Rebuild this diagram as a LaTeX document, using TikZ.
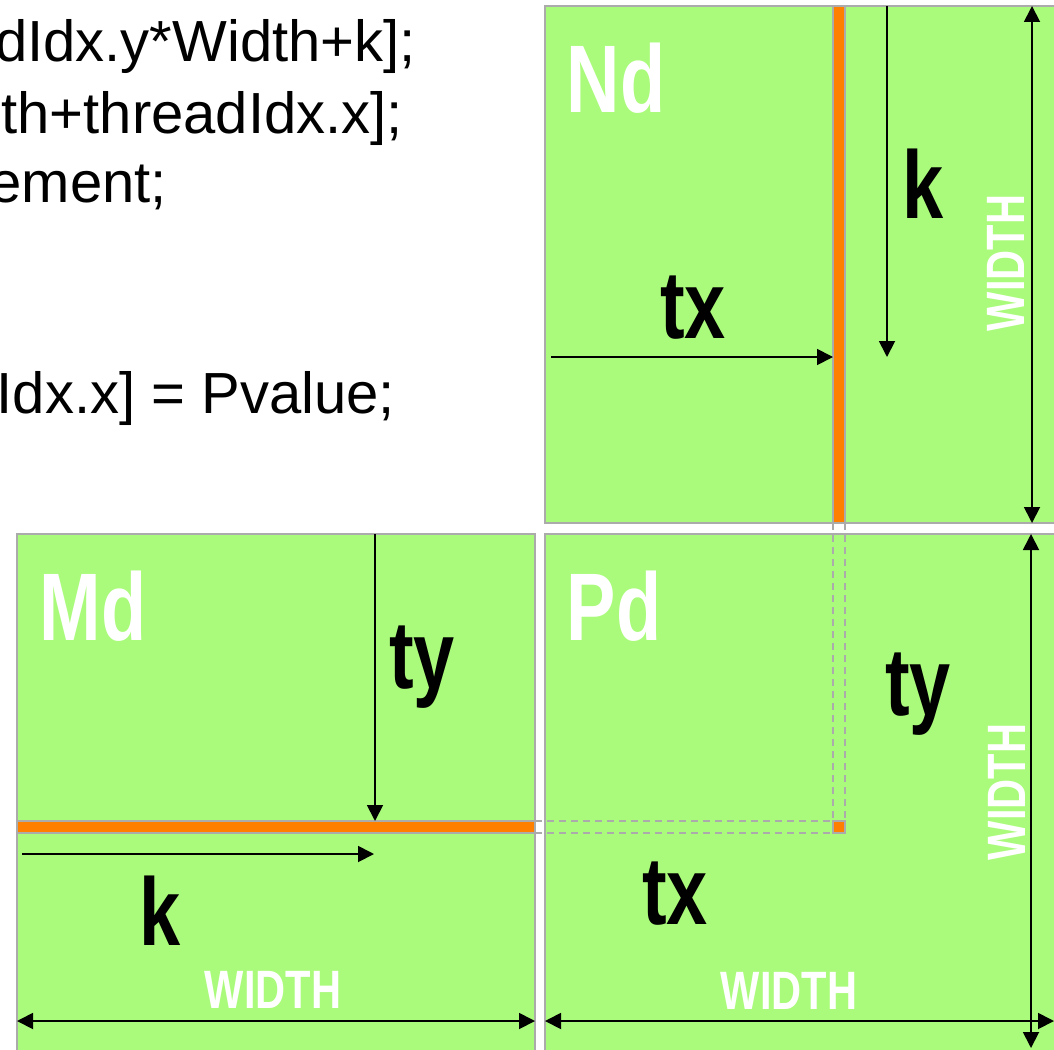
\documentclass[tikz,border=0pt]{standalone}
\usepackage{fontspec}
\setmainfont{Liberation Sans}
\newfontfamily\lbl[FakeStretch=0.77]{Liberation Sans Bold}
\usetikzlibrary{arrows.meta}
\definecolor{boxgreen}{HTML}{AAFB7B}
\definecolor{stripor}{HTML}{FF7F00}
\definecolor{edgegray}{HTML}{ABABAB}
\begin{document}
\begin{tikzpicture}[x=1pt,y=-1pt,
 mat/.style={fill=boxgreen,draw=edgegray,line width=1.6pt},
 strip/.style={fill=stripor,draw=edgegray,line width=1.3pt},
 guide/.style={draw=edgegray,dash pattern=on 7pt off 5pt,line width=1.3pt},
 arr/.style={-{Triangle[length=16pt,width=16pt]},line width=1.8pt},
 dbl/.style={{Triangle[length=16pt,width=16pt]}-{Triangle[length=16pt,width=16pt]},line width=1.8pt},
 big/.style={font=\lbl\fontsize{96}{96}\selectfont,inner sep=0pt,anchor=base},
 matname/.style={big,text=white},
 dimtext/.style={font=\lbl\fontsize{54}{54}\selectfont,text=white,inner sep=0pt},
 code/.style={font=\fontsize{58}{70}\selectfont,inner sep=0pt,anchor=base east}]
\useasboundingbox (0,0) rectangle (1054,1049);
\clip (0,0) rectangle (1054,1049);
% matrices
\draw[mat] (545,6) rectangle (1080,523);
\draw[mat] (545,534) rectangle (1080,1080);
\draw[mat] (17,534) rectangle (535,1080);
% highlighted strips
\draw[strip] (833,6) rectangle (845,523);
\draw[strip] (17,821) rectangle (535,833);
% guides
\draw[guide] (535,821) -- (833,821);
\draw[guide] (535,833) -- (833,833);
\draw[guide] (833,523) -- (833,821);
\draw[guide] (845,523) -- (845,821);
\draw[strip] (833,821) rectangle (845,833);
% coordinates
\coordinate (ntxA) at (551,357); \coordinate (ntxB) at (833,357);
\coordinate (nkA) at (887,6); \coordinate (nkB) at (887,357);
\coordinate (nwA) at (1032,6); \coordinate (nwB) at (1032,523);
\coordinate (pvA) at (1031,534); \coordinate (pvB) at (1031,1048);
\coordinate (phA) at (545,1021); \coordinate (phB) at (1054,1021);
\coordinate (mtyA) at (375,534); \coordinate (mtyB) at (375,821);
\coordinate (mkA) at (22,854); \coordinate (mkB) at (374,854);
\coordinate (mwA) at (17,1021); \coordinate (mwB) at (535,1021);
\draw[arr] (ntxA) -- (ntxB);
\draw[arr] (nkA) -- (nkB);
\draw[dbl] (nwA) -- (nwB);
\draw[dbl] (pvA) -- (pvB);
\draw[dbl] (phA) -- (phB);
\draw[arr] (mtyA) -- (mtyB);
\draw[arr] (mkA) -- (mkB);
\draw[dbl] (mwA) -- (mwB);
% labels
\node[matname] (ndl) at (616,112) {Nd};
\node[matname] (mdl) at (93,640) {Md};
\node[matname] (pdl) at (614,640) {Pd};
\node[big] (ntx) at (693,338) {tx};
\node[big] (nk) at (923,218) {k};
\node[big] (mty) at (422,688) {ty};
\node[big] (pty) at (918,715) {ty};
\node[big] (ptx) at (675,924) {tx};
\node[big] (mk) at (160,945) {k};
\node[dimtext,anchor=base] (mw) at (273,1008) {WIDTH};
\node[dimtext,anchor=base] (pw) at (789,1009) {WIDTH};
\node[dimtext,rotate=90] (nw) at (1006,263) {WIDTH};
\node[dimtext,rotate=90] (pwv) at (1007,792) {WIDTH};
% code fragment
\node[code] (c1) at (416,62) {dIdx.y*Width+k];};
\node[code] (c2) at (403,133) {th+threadIdx.x];};
\node[code] (c3) at (167,202) {ement;};
\node[code] (c6) at (395,413) {Idx.x] = Pvalue;};
\end{tikzpicture}
\end{document}
